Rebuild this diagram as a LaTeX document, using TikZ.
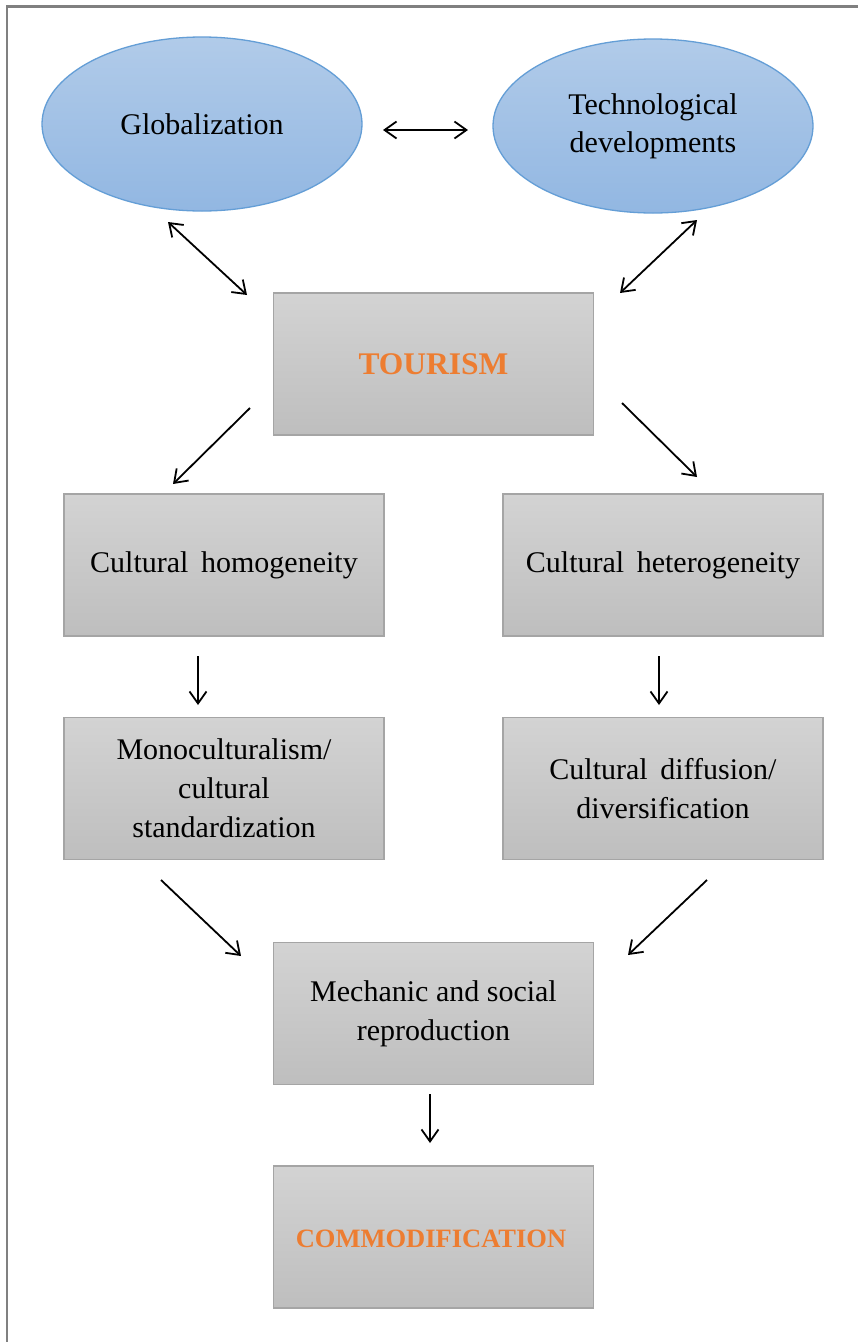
\documentclass[tikz,border=0pt]{standalone}
\usepackage{fontspec}
\setmainfont{Liberation Serif}
\usetikzlibrary{shapes.geometric,arrows.meta}
\definecolor{ellTop}{RGB}{177,203,233}
\definecolor{ellBot}{RGB}{146,183,226}
\definecolor{ellLine}{RGB}{100,158,214}
\definecolor{boxTop}{RGB}{211,211,211}
\definecolor{boxBot}{RGB}{190,190,190}
\definecolor{boxLine}{RGB}{165,165,165}
\definecolor{frameGray}{RGB}{128,128,128}
\definecolor{accent}{RGB}{237,125,49}
\tikzset{
  ellnode/.style={ellipse, draw=ellLine, line width=1.3pt, top color=ellTop, bottom color=ellBot,
    minimum width=320pt, minimum height=174pt, inner sep=0pt, align=center,
    font=\fontsize{30}{38}\selectfont},
  boxnode/.style={rectangle, draw=boxLine, line width=1.3pt, top color=boxTop, bottom color=boxBot,
    minimum width=320pt, minimum height=142pt, inner sep=0pt, align=center,
    font=\fontsize{30}{39}\selectfont},
  keyword/.style={text=accent, font=\bfseries\fontsize{31.5}{36}\selectfont},
  conn/.style={line width=1.8pt, -{Straight Barb[length=12pt,width=17pt,line width=1.8pt]}},
  bconn/.style={line width=1.8pt, {Straight Barb[length=12pt,width=17pt,line width=1.8pt]}-{Straight Barb[length=12pt,width=17pt,line width=1.8pt]}},
  frameline/.style={draw=frameGray, line width=2.2pt}
}
\begin{document}
\begin{tikzpicture}[x=1pt,y=-1pt]
\useasboundingbox (0,0) rectangle (858,1342);
\fill[white] (0,0) rectangle (858,1342);
% frame
\coordinate (fa) at (7.3,1342);
\coordinate (fb) at (7.3,6.5);
\coordinate (fc) at (858,6.5);
\draw[frameline] (fa) -- (fb) -- (fc);

% nodes
\node[ellnode] (glob) at (202,124) {Globalization};
\node[ellnode] (tech) at (653,126) {Technological\\developments};
\node[boxnode] (tour) at (433.5,364) {};
\node[keyword] (tourtxt) at (433.5,364) {TOURISM};
\node[boxnode] (homo) at (224,565) {Cultural\hspace{0.42em}homogeneity};
\node[boxnode] (hete) at (663,565) {Cultural\hspace{0.42em}heterogeneity};
\node[boxnode] (mono) at (224,788.5) {Monoculturalism/\\cultural\\standardization};
\node[boxnode] (diff) at (663,788.5) {Cultural\hspace{0.42em}diffusion/\\diversification};
\node[boxnode] (mech) at (433.5,1013.5) {Mechanic and social\\reproduction};
\node[boxnode] (comm) at (433.5,1237) {};
\node[keyword, font=\bfseries\fontsize{26.5}{30}\selectfont] (commtxt) at (431,1239) {COMMODIFICATION};

% connector end points
\coordinate (h1) at (383,130);
\coordinate (h2) at (468,130);
\coordinate (d1a) at (168,222);
\coordinate (d1b) at (247,295);
\coordinate (d2a) at (697,220);
\coordinate (d2b) at (620,293);
\coordinate (t1a) at (250,408);
\coordinate (t1b) at (173,484);
\coordinate (t2a) at (622,403);
\coordinate (t2b) at (697,477);
\coordinate (v1a) at (198,656);
\coordinate (v1b) at (198,705);
\coordinate (v2a) at (659,656);
\coordinate (v2b) at (659,705);
\coordinate (m1a) at (161,880);
\coordinate (m1b) at (241,956);
\coordinate (m2a) at (707,880);
\coordinate (m2b) at (628,955);
\coordinate (c1a) at (430,1094);
\coordinate (c1b) at (430,1143);

\draw[bconn] (h1) -- (h2);
\draw[bconn] (d1a) -- (d1b);
\draw[bconn] (d2a) -- (d2b);
\draw[conn] (t1a) -- (t1b);
\draw[conn] (t2a) -- (t2b);
\draw[conn] (v1a) -- (v1b);
\draw[conn] (v2a) -- (v2b);
\draw[conn] (m1a) -- (m1b);
\draw[conn] (m2a) -- (m2b);
\draw[conn] (c1a) -- (c1b);
\end{tikzpicture}
\end{document}
